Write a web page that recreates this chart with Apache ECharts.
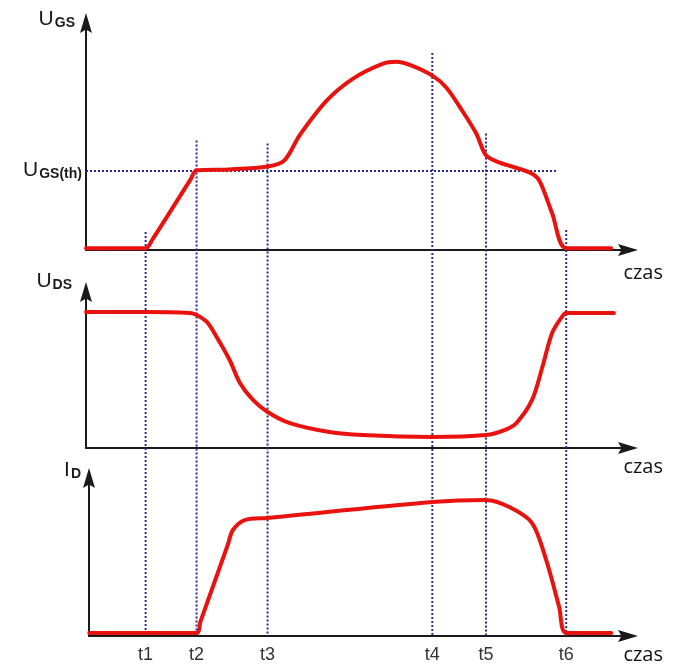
<!DOCTYPE html>
<html>
<head>
<meta charset="utf-8">
<title>MOSFET switching waveforms</title>
<script src="https://cdn.jsdelivr.net/npm/echarts@6/dist/echarts.min.js"></script>
<style>
  html, body { margin: 0; padding: 0; background: #fff; }
  #chart { width: 678px; height: 666px; }
</style>
</head>
<body>
<div id="chart"></div>
<script>
  // switching instants (time axis 0..100)
  const tNames = ["t1", "t2", "t3", "t4", "t5", "t6"];
  const tMarks = [11.0, 20.4, 33.5, 63.9, 73.8, 88.6];
  // where each dotted marker starts, in UGS units
  const markerTops = [7.9, 48.2, 46.9, 86.8, 51.3, 8.8];

  const ugsTh = 35.1;
  const thEnd = 86.7;

  const ugsT = [0, 11.0, 12.2, 19.3, 20.4, 26.5, 33.5, 36.6, 39.4, 44.4, 49.2, 54.7, 57.3, 60.2, 63.9, 66.5, 69.4, 72.0, 73.8, 76.2, 81.8, 83.6, 86.0, 88.6, 96.9];
  const ugsV = [0.8, 0.8, 4.4, 31.1, 35.1, 35.5, 36.8, 39.5, 50.5, 65.8, 75.4, 82.0, 82.9, 81.1, 76.8, 71.5, 61.4, 51.3, 41.7, 38.6, 34.2, 30.7, 16.2, 0.8, 0.8];

  const udsT = [0, 11.0, 19.2, 20.4, 22.3, 24.1, 26.5, 28.4, 30.8, 33.5, 37.6, 44.9, 51.0, 63.9, 73.8, 77.2, 79.4, 82.3, 84.2, 86.0, 87.8, 88.6, 97.4];
  const udsV = [87.2, 87.2, 86.5, 85.3, 80.8, 71.2, 56.4, 41.7, 30.8, 23.1, 16.0, 10.3, 8.3, 7.1, 8.3, 11.5, 16.0, 30.8, 51.9, 73.7, 84.0, 86.5, 86.5];

  const idT = [0.6, 20.4, 21.1, 26.2, 27.1, 29.3, 33.5, 63.9, 73.8, 78.1, 82.3, 84.9, 87.3, 88.6, 96.9];
  const idV = [1.9, 1.9, 8.9, 58.2, 67.1, 73.4, 74.7, 84.8, 86.1, 81.6, 71.5, 48.1, 18.4, 1.9, 1.9];

  // layout (px)
  const LEFT = 86, WIDTH = 542;
  const TOP_Y = 23, TOP_H = 227;
  const MID_Y = 292, MID_H = 156;
  const BOT_Y = 478, BOT_H = 158;
  const BOT_LEFT = 89;
  const dropTo = -((BOT_Y + BOT_H) - (TOP_Y + TOP_H)) / (TOP_H / 100);

  const RED = "#e8120f";
  const DOT = "#2a2a8c";
  const INK = "#1a1a1a";
  const FONT = "Liberation Sans";
  const ARROW = "path://M6,0 L12,20 L6,16.5 L0,20 Z";

  const nameRich = {
    u: { fontSize: 21, color: INK, fontFamily: FONT },
    s: { fontSize: 14, fontWeight: "bold", color: INK, fontFamily: FONT, padding: [8, 0, 0, 1] }
  };

  function xAxisOf(gridIndex, min, labels) {
    return {
      type: "value", gridIndex: gridIndex, min: min, max: 100,
      splitLine: { show: false },
      axisTick: { show: false },
      axisLine: {
        lineStyle: { color: INK, width: 2 },
        symbol: ["none", ARROW], symbolSize: [12, 20]
      },
      axisLabel: labels ? {
        show: true, customValues: tMarks, margin: 10,
        fontSize: 18, lineHeight: 18, color: "#333", fontFamily: FONT,
        formatter: function (v) {
          const i = tMarks.findIndex(function (m) { return Math.abs(m - v) < 1e-6; });
          return i >= 0 ? tNames[i] : "";
        }
      } : { show: false },
      name: "czas", nameLocation: "end", nameGap: 35, nameMoveOverlap: false,
      nameTextStyle: {
        align: "right", verticalAlign: "top", lineHeight: 24,
        padding: [gridIndex === 0 ? 11 : 7, 0, 0, 0],
        fontSize: 20, color: "#111", fontFamily: "Open Sans"
      }
    };
  }

  function yAxisOf(gridIndex, name, gap, padRight) {
    return {
      type: "value", gridIndex: gridIndex, min: 0, max: 100,
      splitLine: { show: false },
      axisTick: { show: false },
      axisLabel: { show: false },
      axisLine: {
        lineStyle: { color: INK, width: 2 },
        symbol: ["none", ARROW], symbolSize: [12, 20]
      },
      name: name, nameLocation: "end", nameGap: gap, nameMoveOverlap: false,
      nameTextStyle: { align: "right", verticalAlign: "middle", padding: [0, padRight, 0, 0], rich: nameRich }
    };
  }

  function zip(a, b) {
    return a.map(function (v, i) { return [v, b[i]]; });
  }

  const curveStyle = { color: RED, width: 4, cap: "round", join: "round" };
  const dotStyle = { color: DOT, width: 2, type: [2, 2] };

  const markerSeries = tMarks.map(function (t, i) {
    return {
      type: "line", xAxisIndex: 0, yAxisIndex: 0, clip: false,
      symbol: "none", silent: true, z: 1,
      lineStyle: dotStyle,
      data: [[t, markerTops[i]], [t, dropTo]]
    };
  });

  const chart = echarts.init(document.getElementById("chart"));
  chart.setOption({
    backgroundColor: "#fff",
    animation: false,
    grid: [
      { left: LEFT, top: TOP_Y, width: WIDTH, height: TOP_H, outerBoundsMode: "none" },
      { left: LEFT, top: MID_Y, width: WIDTH, height: MID_H, outerBoundsMode: "none" },
      { left: BOT_LEFT, top: BOT_Y, width: LEFT + WIDTH - BOT_LEFT, height: BOT_H, outerBoundsMode: "none" }
    ],
    xAxis: [
      xAxisOf(0, 0, false),
      xAxisOf(1, 0, false),
      xAxisOf(2, (BOT_LEFT - LEFT) / (WIDTH / 100), true)
    ],
    yAxis: [
      yAxisOf(0, "{u|U}{s|GS}", 4, 11),
      yAxisOf(1, "{u|U}{s|DS}", 11, 14),
      yAxisOf(2, "{u|I}{s|D}", 8, 8)
    ],
    series: markerSeries.concat([
      {
        name: "UGS", type: "line", xAxisIndex: 0, yAxisIndex: 0,
        symbol: "none", smooth: 0.3, z: 3,
        lineStyle: curveStyle,
        data: zip(ugsT, ugsV),
        markLine: {
          silent: true, symbol: "none", z: 1,
          lineStyle: dotStyle,
          label: {
            position: "start", distance: 4,
            formatter: "{u|U}{s|GS(th)}", rich: nameRich
          },
          data: [[{ coord: [0, ugsTh] }, { coord: [thEnd, ugsTh] }]]
        }
      },
      {
        name: "UDS", type: "line", xAxisIndex: 1, yAxisIndex: 1,
        symbol: "none", smooth: 0.3, z: 3,
        lineStyle: curveStyle,
        data: zip(udsT, udsV)
      },
      {
        name: "ID", type: "line", xAxisIndex: 2, yAxisIndex: 2,
        symbol: "none", smooth: 0.3, z: 3,
        lineStyle: curveStyle,
        data: zip(idT, idV)
      }
    ])
  });
</script>
</body>
</html>
